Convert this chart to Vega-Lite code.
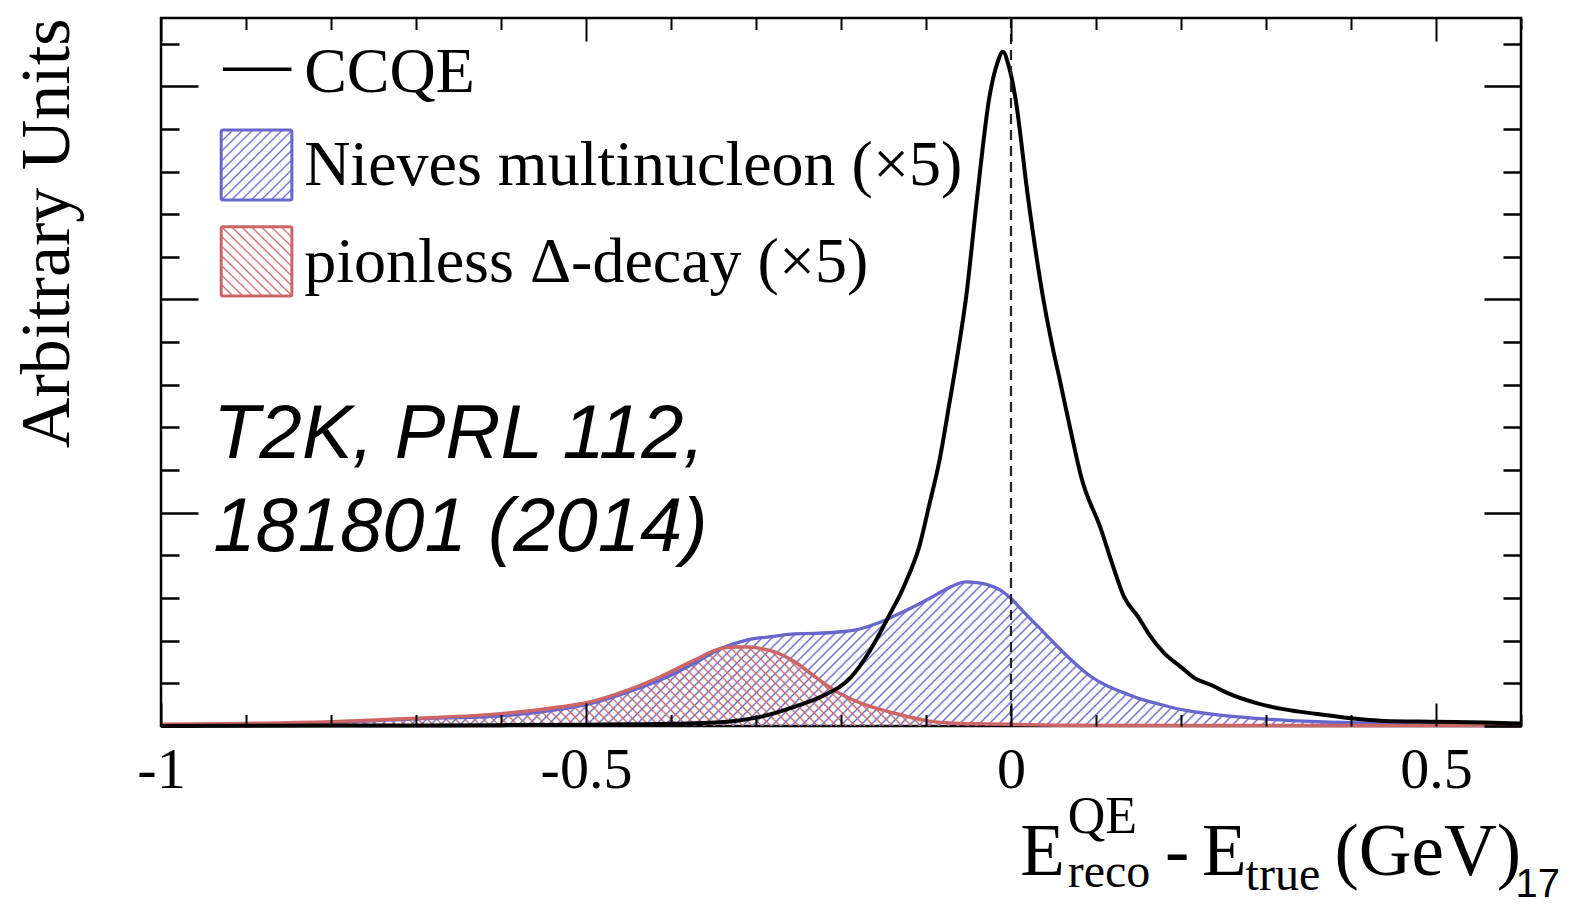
{
"$schema":"https://vega.github.io/schema/vega-lite/v6.json",
"width":1360,"height":708,
"autosize":{"type":"none"},
"padding":{"left":161,"top":18,"right":56,"bottom":181},
"background":"white",
"config":{"view":{"stroke":"black","strokeWidth":2.5},"axis":{"grid":false,"domain":false,"tickColor":"black","labelColor":"black","titleColor":"black"}},
"datasets":{
"ccqe":[{"x":-1,"y":0},{"x":-0.8,"y":0.01},{"x":-0.6,"y":0.02},{"x":-0.5,"y":0.03},{"x":-0.45,"y":0.04},{"x":-0.4,"y":0.05},{"x":-0.364,"y":0.07},{"x":-0.333,"y":0.1},{"x":-0.294,"y":0.22},{"x":-0.255,"y":0.45},{"x":-0.223,"y":0.69},{"x":-0.188,"y":1.15},{"x":-0.168,"y":1.7},{"x":-0.155,"y":2.15},{"x":-0.141,"y":2.68},{"x":-0.13,"y":3.1},{"x":-0.12,"y":3.55},{"x":-0.108,"y":4.2},{"x":-0.096,"y":5.2},{"x":-0.084,"y":6.24},{"x":-0.073,"y":7.5},{"x":-0.062,"y":8.82},{"x":-0.0527,"y":10.07},{"x":-0.0398,"y":12.41},{"x":-0.0253,"y":14.76},{"x":-0.016,"y":15.55},{"x":-0.0095,"y":15.81},{"x":-0.003,"y":15.5},{"x":0.0049,"y":14.76},{"x":0.0199,"y":12.41},{"x":0.0375,"y":10.07},{"x":0.0496,"y":8.82},{"x":0.0567,"y":8.18},{"x":0.0708,"y":6.87},{"x":0.0826,"y":5.84},{"x":0.1061,"y":4.6},{"x":0.12,"y":3.75},{"x":0.1332,"y":3.02},{"x":0.1496,"y":2.56},{"x":0.1614,"y":2.18},{"x":0.1802,"y":1.71},{"x":0.2002,"y":1.38},{"x":0.2155,"y":1.13},{"x":0.2355,"y":0.96},{"x":0.255,"y":0.77},{"x":0.29,"y":0.53},{"x":0.322,"y":0.39},{"x":0.361,"y":0.28},{"x":0.4,"y":0.18},{"x":0.439,"y":0.12},{"x":0.498,"y":0.1},{"x":0.557,"y":0.08},{"x":0.6,"y":0.06}],
"nieves":[{"x":-1,"y":0.02},{"x":-0.9,"y":0.05},{"x":-0.8,"y":0.08},{"x":-0.7,"y":0.17},{"x":-0.6,"y":0.24},{"x":-0.55,"y":0.34},{"x":-0.5,"y":0.5},{"x":-0.45,"y":0.8},{"x":-0.41,"y":1.1},{"x":-0.37,"y":1.5},{"x":-0.341,"y":1.82},{"x":-0.31,"y":2.02},{"x":-0.28,"y":2.1},{"x":-0.255,"y":2.16},{"x":-0.231,"y":2.17},{"x":-0.2,"y":2.21},{"x":-0.184,"y":2.25},{"x":-0.157,"y":2.41},{"x":-0.135,"y":2.6},{"x":-0.114,"y":2.8},{"x":-0.095,"y":3.0},{"x":-0.078,"y":3.19},{"x":-0.053,"y":3.38},{"x":-0.04,"y":3.36},{"x":-0.027,"y":3.31},{"x":-0.012,"y":3.18},{"x":0,"y":2.99},{"x":0.016,"y":2.65},{"x":0.032,"y":2.33},{"x":0.048,"y":2.0},{"x":0.063,"y":1.7},{"x":0.078,"y":1.42},{"x":0.094,"y":1.16},{"x":0.114,"y":0.93},{"x":0.134,"y":0.77},{"x":0.153,"y":0.63},{"x":0.173,"y":0.52},{"x":0.204,"y":0.37},{"x":0.243,"y":0.26},{"x":0.302,"y":0.16},{"x":0.361,"y":0.1},{"x":0.439,"y":0.06},{"x":0.52,"y":0.04},{"x":0.6,"y":0.03}],
"delta":[{"x":-1,"y":0.04},{"x":-0.9,"y":0.06},{"x":-0.8,"y":0.1},{"x":-0.7,"y":0.18},{"x":-0.6,"y":0.29},{"x":-0.529,"y":0.45},{"x":-0.498,"y":0.55},{"x":-0.451,"y":0.84},{"x":-0.412,"y":1.16},{"x":-0.372,"y":1.55},{"x":-0.341,"y":1.82},{"x":-0.325,"y":1.85},{"x":-0.31,"y":1.85},{"x":-0.295,"y":1.82},{"x":-0.278,"y":1.74},{"x":-0.255,"y":1.51},{"x":-0.231,"y":1.16},{"x":-0.208,"y":0.84},{"x":-0.176,"y":0.53},{"x":-0.137,"y":0.3},{"x":-0.098,"y":0.12},{"x":-0.06,"y":0.06},{"x":-0.039,"y":0.05},{"x":0.059,"y":0.02},{"x":0.2,"y":0.01},{"x":0.6,"y":0.01}]
},
"layer":[
{"layer":[
{"data":{"name":"nieves"},
"mark":{"type":"area","interpolate":"monotone","fill":{"gradient":"linear","x1":0,"y1":0,"x2":1.094,"y2":0.116,"stops":[
{"offset":0.091,"color":"#66c0"},{"offset":0.0923,"color":"#66c"},{"offset":0.0936,"color":"#66c0"},
{"offset":0.0975,"color":"#66c0"},{"offset":0.0988,"color":"#66c"},{"offset":0.1001,"color":"#66c0"},
{"offset":0.104,"color":"#66c0"},{"offset":0.1053,"color":"#66c"},{"offset":0.1066,"color":"#66c0"},
{"offset":0.1105,"color":"#66c0"},{"offset":0.1118,"color":"#66c"},{"offset":0.1131,"color":"#66c0"},
{"offset":0.117,"color":"#66c0"},{"offset":0.1183,"color":"#66c"},{"offset":0.1196,"color":"#66c0"},
{"offset":0.1235,"color":"#66c0"},{"offset":0.1248,"color":"#66c"},{"offset":0.1261,"color":"#66c0"},
{"offset":0.13,"color":"#66c0"},{"offset":0.1313,"color":"#66c"},{"offset":0.1326,"color":"#66c0"},
{"offset":0.1365,"color":"#66c0"},{"offset":0.1378,"color":"#66c"},{"offset":0.1391,"color":"#66c0"},
{"offset":0.143,"color":"#66c0"},{"offset":0.1443,"color":"#66c"},{"offset":0.1456,"color":"#66c0"},
{"offset":0.1495,"color":"#66c0"},{"offset":0.1508,"color":"#66c"},{"offset":0.1521,"color":"#66c0"},
{"offset":0.156,"color":"#66c0"},{"offset":0.1573,"color":"#66c"},{"offset":0.1586,"color":"#66c0"},
{"offset":0.1625,"color":"#66c0"},{"offset":0.1638,"color":"#66c"},{"offset":0.1651,"color":"#66c0"},
{"offset":0.169,"color":"#66c0"},{"offset":0.1703,"color":"#66c"},{"offset":0.1716,"color":"#66c0"},
{"offset":0.1755,"color":"#66c0"},{"offset":0.1768,"color":"#66c"},{"offset":0.1781,"color":"#66c0"},
{"offset":0.182,"color":"#66c0"},{"offset":0.1833,"color":"#66c"},{"offset":0.1846,"color":"#66c0"},
{"offset":0.1885,"color":"#66c0"},{"offset":0.1898,"color":"#66c"},{"offset":0.1911,"color":"#66c0"},
{"offset":0.195,"color":"#66c0"},{"offset":0.1963,"color":"#66c"},{"offset":0.1976,"color":"#66c0"},
{"offset":0.2015,"color":"#66c0"},{"offset":0.2028,"color":"#66c"},{"offset":0.2041,"color":"#66c0"},
{"offset":0.208,"color":"#66c0"},{"offset":0.2093,"color":"#66c"},{"offset":0.2106,"color":"#66c0"},
{"offset":0.2145,"color":"#66c0"},{"offset":0.2158,"color":"#66c"},{"offset":0.2171,"color":"#66c0"},
{"offset":0.221,"color":"#66c0"},{"offset":0.2223,"color":"#66c"},{"offset":0.2236,"color":"#66c0"},
{"offset":0.2275,"color":"#66c0"},{"offset":0.2288,"color":"#66c"},{"offset":0.2301,"color":"#66c0"},
{"offset":0.234,"color":"#66c0"},{"offset":0.2353,"color":"#66c"},{"offset":0.2366,"color":"#66c0"},
{"offset":0.2405,"color":"#66c0"},{"offset":0.2418,"color":"#66c"},{"offset":0.2431,"color":"#66c0"},
{"offset":0.247,"color":"#66c0"},{"offset":0.2483,"color":"#66c"},{"offset":0.2496,"color":"#66c0"},
{"offset":0.2535,"color":"#66c0"},{"offset":0.2548,"color":"#66c"},{"offset":0.2561,"color":"#66c0"},
{"offset":0.26,"color":"#66c0"},{"offset":0.2613,"color":"#66c"},{"offset":0.2626,"color":"#66c0"},
{"offset":0.2665,"color":"#66c0"},{"offset":0.2678,"color":"#66c"},{"offset":0.2691,"color":"#66c0"},
{"offset":0.273,"color":"#66c0"},{"offset":0.2743,"color":"#66c"},{"offset":0.2756,"color":"#66c0"},
{"offset":0.2795,"color":"#66c0"},{"offset":0.2808,"color":"#66c"},{"offset":0.2821,"color":"#66c0"},
{"offset":0.286,"color":"#66c0"},{"offset":0.2873,"color":"#66c"},{"offset":0.2886,"color":"#66c0"},
{"offset":0.2925,"color":"#66c0"},{"offset":0.2938,"color":"#66c"},{"offset":0.2951,"color":"#66c0"},
{"offset":0.299,"color":"#66c0"},{"offset":0.3003,"color":"#66c"},{"offset":0.3016,"color":"#66c0"},
{"offset":0.3055,"color":"#66c0"},{"offset":0.3068,"color":"#66c"},{"offset":0.3081,"color":"#66c0"},
{"offset":0.312,"color":"#66c0"},{"offset":0.3133,"color":"#66c"},{"offset":0.3146,"color":"#66c0"},
{"offset":0.3185,"color":"#66c0"},{"offset":0.3198,"color":"#66c"},{"offset":0.3211,"color":"#66c0"},
{"offset":0.325,"color":"#66c0"},{"offset":0.3263,"color":"#66c"},{"offset":0.3276,"color":"#66c0"},
{"offset":0.3315,"color":"#66c0"},{"offset":0.3328,"color":"#66c"},{"offset":0.3341,"color":"#66c0"},
{"offset":0.338,"color":"#66c0"},{"offset":0.3393,"color":"#66c"},{"offset":0.3406,"color":"#66c0"},
{"offset":0.3445,"color":"#66c0"},{"offset":0.3458,"color":"#66c"},{"offset":0.3471,"color":"#66c0"},
{"offset":0.351,"color":"#66c0"},{"offset":0.3523,"color":"#66c"},{"offset":0.3536,"color":"#66c0"},
{"offset":0.3575,"color":"#66c0"},{"offset":0.3588,"color":"#66c"},{"offset":0.3601,"color":"#66c0"},
{"offset":0.364,"color":"#66c0"},{"offset":0.3653,"color":"#66c"},{"offset":0.3666,"color":"#66c0"},
{"offset":0.3705,"color":"#66c0"},{"offset":0.3718,"color":"#66c"},{"offset":0.3731,"color":"#66c0"},
{"offset":0.377,"color":"#66c0"},{"offset":0.3783,"color":"#66c"},{"offset":0.3796,"color":"#66c0"},
{"offset":0.3835,"color":"#66c0"},{"offset":0.3848,"color":"#66c"},{"offset":0.3861,"color":"#66c0"},
{"offset":0.39,"color":"#66c0"},{"offset":0.3913,"color":"#66c"},{"offset":0.3926,"color":"#66c0"},
{"offset":0.3965,"color":"#66c0"},{"offset":0.3978,"color":"#66c"},{"offset":0.3991,"color":"#66c0"},
{"offset":0.403,"color":"#66c0"},{"offset":0.4043,"color":"#66c"},{"offset":0.4056,"color":"#66c0"},
{"offset":0.4095,"color":"#66c0"},{"offset":0.4108,"color":"#66c"},{"offset":0.4121,"color":"#66c0"},
{"offset":0.416,"color":"#66c0"},{"offset":0.4173,"color":"#66c"},{"offset":0.4186,"color":"#66c0"},
{"offset":0.4225,"color":"#66c0"},{"offset":0.4238,"color":"#66c"},{"offset":0.4251,"color":"#66c0"},
{"offset":0.429,"color":"#66c0"},{"offset":0.4303,"color":"#66c"},{"offset":0.4316,"color":"#66c0"},
{"offset":0.4355,"color":"#66c0"},{"offset":0.4368,"color":"#66c"},{"offset":0.4381,"color":"#66c0"},
{"offset":0.442,"color":"#66c0"},{"offset":0.4433,"color":"#66c"},{"offset":0.4446,"color":"#66c0"},
{"offset":0.4485,"color":"#66c0"},{"offset":0.4498,"color":"#66c"},{"offset":0.4511,"color":"#66c0"},
{"offset":0.455,"color":"#66c0"},{"offset":0.4563,"color":"#66c"},{"offset":0.4576,"color":"#66c0"},
{"offset":0.4615,"color":"#66c0"},{"offset":0.4628,"color":"#66c"},{"offset":0.4641,"color":"#66c0"},
{"offset":0.468,"color":"#66c0"},{"offset":0.4693,"color":"#66c"},{"offset":0.4706,"color":"#66c0"},
{"offset":0.4745,"color":"#66c0"},{"offset":0.4758,"color":"#66c"},{"offset":0.4771,"color":"#66c0"},
{"offset":0.481,"color":"#66c0"},{"offset":0.4823,"color":"#66c"},{"offset":0.4836,"color":"#66c0"},
{"offset":0.4875,"color":"#66c0"},{"offset":0.4888,"color":"#66c"},{"offset":0.4901,"color":"#66c0"},
{"offset":0.494,"color":"#66c0"},{"offset":0.4953,"color":"#66c"},{"offset":0.4966,"color":"#66c0"},
{"offset":0.5005,"color":"#66c0"},{"offset":0.5018,"color":"#66c"},{"offset":0.5031,"color":"#66c0"},
{"offset":0.507,"color":"#66c0"},{"offset":0.5083,"color":"#66c"},{"offset":0.5096,"color":"#66c0"},
{"offset":0.5135,"color":"#66c0"},{"offset":0.5148,"color":"#66c"},{"offset":0.5161,"color":"#66c0"},
{"offset":0.52,"color":"#66c0"},{"offset":0.5213,"color":"#66c"},{"offset":0.5226,"color":"#66c0"},
{"offset":0.5265,"color":"#66c0"},{"offset":0.5278,"color":"#66c"},{"offset":0.5291,"color":"#66c0"},
{"offset":0.533,"color":"#66c0"},{"offset":0.5343,"color":"#66c"},{"offset":0.5356,"color":"#66c0"},
{"offset":0.5395,"color":"#66c0"},{"offset":0.5408,"color":"#66c"},{"offset":0.5421,"color":"#66c0"},
{"offset":0.546,"color":"#66c0"},{"offset":0.5473,"color":"#66c"},{"offset":0.5486,"color":"#66c0"},
{"offset":0.5525,"color":"#66c0"},{"offset":0.5538,"color":"#66c"},{"offset":0.5551,"color":"#66c0"},
{"offset":0.559,"color":"#66c0"},{"offset":0.5603,"color":"#66c"},{"offset":0.5616,"color":"#66c0"},
{"offset":0.5655,"color":"#66c0"},{"offset":0.5668,"color":"#66c"},{"offset":0.5681,"color":"#66c0"},
{"offset":0.572,"color":"#66c0"},{"offset":0.5733,"color":"#66c"},{"offset":0.5746,"color":"#66c0"},
{"offset":0.5785,"color":"#66c0"},{"offset":0.5798,"color":"#66c"},{"offset":0.5811,"color":"#66c0"},
{"offset":0.585,"color":"#66c0"},{"offset":0.5863,"color":"#66c"},{"offset":0.5876,"color":"#66c0"},
{"offset":0.5915,"color":"#66c0"},{"offset":0.5928,"color":"#66c"},{"offset":0.5941,"color":"#66c0"},
{"offset":0.598,"color":"#66c0"},{"offset":0.5993,"color":"#66c"},{"offset":0.6006,"color":"#66c0"},
{"offset":0.6045,"color":"#66c0"},{"offset":0.6058,"color":"#66c"},{"offset":0.6071,"color":"#66c0"},
{"offset":0.611,"color":"#66c0"},{"offset":0.6123,"color":"#66c"},{"offset":0.6136,"color":"#66c0"},
{"offset":0.6175,"color":"#66c0"},{"offset":0.6188,"color":"#66c"},{"offset":0.6201,"color":"#66c0"},
{"offset":0.624,"color":"#66c0"},{"offset":0.6253,"color":"#66c"},{"offset":0.6266,"color":"#66c0"},
{"offset":0.6305,"color":"#66c0"},{"offset":0.6318,"color":"#66c"},{"offset":0.6331,"color":"#66c0"},
{"offset":0.637,"color":"#66c0"},{"offset":0.6383,"color":"#66c"},{"offset":0.6396,"color":"#66c0"},
{"offset":0.6435,"color":"#66c0"},{"offset":0.6448,"color":"#66c"},{"offset":0.6461,"color":"#66c0"},
{"offset":0.65,"color":"#66c0"},{"offset":0.6513,"color":"#66c"},{"offset":0.6526,"color":"#66c0"},
{"offset":0.6565,"color":"#66c0"},{"offset":0.6578,"color":"#66c"},{"offset":0.6591,"color":"#66c0"},
{"offset":0.663,"color":"#66c0"},{"offset":0.6643,"color":"#66c"},{"offset":0.6656,"color":"#66c0"},
{"offset":0.6695,"color":"#66c0"},{"offset":0.6708,"color":"#66c"},{"offset":0.6721,"color":"#66c0"},
{"offset":0.676,"color":"#66c0"},{"offset":0.6773,"color":"#66c"},{"offset":0.6786,"color":"#66c0"},
{"offset":0.6825,"color":"#66c0"},{"offset":0.6838,"color":"#66c"},{"offset":0.6851,"color":"#66c0"},
{"offset":0.689,"color":"#66c0"},{"offset":0.6903,"color":"#66c"},{"offset":0.6916,"color":"#66c0"},
{"offset":0.6955,"color":"#66c0"},{"offset":0.6968,"color":"#66c"},{"offset":0.6981,"color":"#66c0"},
{"offset":0.702,"color":"#66c0"},{"offset":0.7033,"color":"#66c"},{"offset":0.7046,"color":"#66c0"},
{"offset":0.7085,"color":"#66c0"},{"offset":0.7098,"color":"#66c"},{"offset":0.7111,"color":"#66c0"},
{"offset":0.715,"color":"#66c0"},{"offset":0.7163,"color":"#66c"},{"offset":0.7176,"color":"#66c0"},
{"offset":0.7215,"color":"#66c0"},{"offset":0.7228,"color":"#66c"},{"offset":0.7241,"color":"#66c0"},
{"offset":0.728,"color":"#66c0"},{"offset":0.7293,"color":"#66c"},{"offset":0.7306,"color":"#66c0"},
{"offset":0.7345,"color":"#66c0"},{"offset":0.7358,"color":"#66c"},{"offset":0.7371,"color":"#66c0"},
{"offset":0.741,"color":"#66c0"},{"offset":0.7423,"color":"#66c"},{"offset":0.7436,"color":"#66c0"},
{"offset":0.7475,"color":"#66c0"},{"offset":0.7488,"color":"#66c"},{"offset":0.7501,"color":"#66c0"},
{"offset":0.754,"color":"#66c0"},{"offset":0.7553,"color":"#66c"},{"offset":0.7566,"color":"#66c0"},
{"offset":0.7605,"color":"#66c0"},{"offset":0.7618,"color":"#66c"},{"offset":0.7631,"color":"#66c0"},
{"offset":0.767,"color":"#66c0"},{"offset":0.7683,"color":"#66c"},{"offset":0.7696,"color":"#66c0"},
{"offset":0.7735,"color":"#66c0"},{"offset":0.7748,"color":"#66c"},{"offset":0.7761,"color":"#66c0"},
{"offset":0.78,"color":"#66c0"},{"offset":0.7813,"color":"#66c"},{"offset":0.7826,"color":"#66c0"},
{"offset":0.7865,"color":"#66c0"},{"offset":0.7878,"color":"#66c"},{"offset":0.7891,"color":"#66c0"},
{"offset":0.793,"color":"#66c0"},{"offset":0.7943,"color":"#66c"},{"offset":0.7956,"color":"#66c0"},
{"offset":0.7995,"color":"#66c0"},{"offset":0.8008,"color":"#66c"},{"offset":0.8021,"color":"#66c0"},
{"offset":0.806,"color":"#66c0"},{"offset":0.8073,"color":"#66c"},{"offset":0.8086,"color":"#66c0"},
{"offset":0.8125,"color":"#66c0"},{"offset":0.8138,"color":"#66c"},{"offset":0.8151,"color":"#66c0"},
{"offset":0.819,"color":"#66c0"},{"offset":0.8203,"color":"#66c"},{"offset":0.8216,"color":"#66c0"},
{"offset":0.8255,"color":"#66c0"},{"offset":0.8268,"color":"#66c"},{"offset":0.8281,"color":"#66c0"},
{"offset":0.832,"color":"#66c0"},{"offset":0.8333,"color":"#66c"},{"offset":0.8346,"color":"#66c0"},
{"offset":0.8385,"color":"#66c0"},{"offset":0.8398,"color":"#66c"},{"offset":0.8411,"color":"#66c0"},
{"offset":0.845,"color":"#66c0"},{"offset":0.8463,"color":"#66c"},{"offset":0.8476,"color":"#66c0"},
{"offset":0.8515,"color":"#66c0"},{"offset":0.8528,"color":"#66c"},{"offset":0.8541,"color":"#66c0"},
{"offset":0.858,"color":"#66c0"},{"offset":0.8593,"color":"#66c"},{"offset":0.8606,"color":"#66c0"},
{"offset":0.8645,"color":"#66c0"},{"offset":0.8658,"color":"#66c"},{"offset":0.8671,"color":"#66c0"},
{"offset":0.871,"color":"#66c0"},{"offset":0.8723,"color":"#66c"},{"offset":0.8736,"color":"#66c0"},
{"offset":0.8775,"color":"#66c0"},{"offset":0.8788,"color":"#66c"},{"offset":0.8801,"color":"#66c0"},
{"offset":0.884,"color":"#66c0"},{"offset":0.8853,"color":"#66c"},{"offset":0.8866,"color":"#66c0"},
{"offset":0.8905,"color":"#66c0"},{"offset":0.8918,"color":"#66c"},{"offset":0.8931,"color":"#66c0"},
{"offset":0.897,"color":"#66c0"},{"offset":0.8983,"color":"#66c"},{"offset":0.8996,"color":"#66c0"},
{"offset":0.9035,"color":"#66c0"},{"offset":0.9048,"color":"#66c"},{"offset":0.9061,"color":"#66c0"},
{"offset":0.91,"color":"#66c0"},{"offset":0.9113,"color":"#66c"},{"offset":0.9126,"color":"#66c0"},
{"offset":0.9165,"color":"#66c0"},{"offset":0.9178,"color":"#66c"},{"offset":0.9191,"color":"#66c0"},
{"offset":0.923,"color":"#66c0"},{"offset":0.9243,"color":"#66c"},{"offset":0.9256,"color":"#66c0"},
{"offset":0.9295,"color":"#66c0"},{"offset":0.9308,"color":"#66c"},{"offset":0.9321,"color":"#66c0"},
{"offset":0.936,"color":"#66c0"},{"offset":0.9373,"color":"#66c"},{"offset":0.9386,"color":"#66c0"},
{"offset":0.9425,"color":"#66c0"},{"offset":0.9438,"color":"#66c"},{"offset":0.9451,"color":"#66c0"},
{"offset":0.949,"color":"#66c0"},{"offset":0.9503,"color":"#66c"},{"offset":0.9516,"color":"#66c0"},
{"offset":0.9555,"color":"#66c0"},{"offset":0.9568,"color":"#66c"},{"offset":0.9581,"color":"#66c0"},
{"offset":0.962,"color":"#66c0"},{"offset":0.9633,"color":"#66c"},{"offset":0.9646,"color":"#66c0"},
{"offset":0.9685,"color":"#66c0"},{"offset":0.9698,"color":"#66c"},{"offset":0.9711,"color":"#66c0"},
{"offset":0.975,"color":"#66c0"},{"offset":0.9763,"color":"#66c"},{"offset":0.9776,"color":"#66c0"},
{"offset":0.9815,"color":"#66c0"},{"offset":0.9828,"color":"#66c"},{"offset":0.9841,"color":"#66c0"},
{"offset":0.988,"color":"#66c0"},{"offset":0.9893,"color":"#66c"},{"offset":0.9906,"color":"#66c0"},
{"offset":0.9945,"color":"#66c0"},{"offset":0.9958,"color":"#66c"},{"offset":0.9971,"color":"#66c0"}
]}},
"encoding":{"x":{"field":"x","type":"quantitative","title":null,"scale":{"domain":[-1,0.6],"nice":false,"zero":false},
"axis":{"orient":"bottom","values":[-1,-0.9,-0.8,-0.7,-0.6,-0.5,-0.4,-0.3,-0.2,-0.1,0,0.1,0.2,0.3,0.4,0.5,0.6],"labelExpr":"datum.value == -1 ? '-1' : datum.value == -0.5 ? '-0.5' : datum.value == 0 ? '0' : datum.value == 0.5 ? '0.5' : ''","labelFlush":false,"labelOverlap":false,"labelFont":"Liberation Serif","labelFontSize":58,"labelPadding":38,"tickSize":{"condition":{"test":"indexof([-1,-0.5,0,0.5], datum.value) >= 0","value":-23},"value":-11.5},"tickWidth":2,"zindex":1}},
"y":{"field":"y","type":"quantitative","title":"Arbitrary Units","scale":{"domain":[0,16.6],"nice":false,"zero":false},
"axis":{"orient":"left","values":[0,1,2,3,4,5,6,7,8,9,10,11,12,13,14,15,16],"labels":false,"tickSize":{"condition":{"test":"indexof([0,5,10,15], datum.value) >= 0","value":-37},"value":-18},"tickWidth":2.5,"titleFont":"Liberation Serif","titleFontSize":70,"titleFontWeight":"normal","titleAnchor":"end","titlePadding":76,"zindex":1}}}},
{"data":{"name":"delta"},
"mark":{"type":"area","interpolate":"monotone","fill":{"gradient":"linear","x1":0,"y1":1,"x2":1.055,"y2":0.939,"stops":[
{"offset":0,"color":"#c660"},{"offset":0.0013,"color":"#c66"},{"offset":0.0026,"color":"#c660"},
{"offset":0.0065,"color":"#c660"},{"offset":0.0078,"color":"#c66"},{"offset":0.0091,"color":"#c660"},
{"offset":0.013,"color":"#c660"},{"offset":0.0143,"color":"#c66"},{"offset":0.0156,"color":"#c660"},
{"offset":0.0195,"color":"#c660"},{"offset":0.0208,"color":"#c66"},{"offset":0.0221,"color":"#c660"},
{"offset":0.026,"color":"#c660"},{"offset":0.0273,"color":"#c66"},{"offset":0.0286,"color":"#c660"},
{"offset":0.0325,"color":"#c660"},{"offset":0.0338,"color":"#c66"},{"offset":0.0351,"color":"#c660"},
{"offset":0.039,"color":"#c660"},{"offset":0.0403,"color":"#c66"},{"offset":0.0416,"color":"#c660"},
{"offset":0.0455,"color":"#c660"},{"offset":0.0468,"color":"#c66"},{"offset":0.0481,"color":"#c660"},
{"offset":0.052,"color":"#c660"},{"offset":0.0533,"color":"#c66"},{"offset":0.0546,"color":"#c660"},
{"offset":0.0585,"color":"#c660"},{"offset":0.0598,"color":"#c66"},{"offset":0.0611,"color":"#c660"},
{"offset":0.065,"color":"#c660"},{"offset":0.0663,"color":"#c66"},{"offset":0.0676,"color":"#c660"},
{"offset":0.0715,"color":"#c660"},{"offset":0.0728,"color":"#c66"},{"offset":0.0741,"color":"#c660"},
{"offset":0.078,"color":"#c660"},{"offset":0.0793,"color":"#c66"},{"offset":0.0806,"color":"#c660"},
{"offset":0.0845,"color":"#c660"},{"offset":0.0858,"color":"#c66"},{"offset":0.0871,"color":"#c660"},
{"offset":0.091,"color":"#c660"},{"offset":0.0923,"color":"#c66"},{"offset":0.0936,"color":"#c660"},
{"offset":0.0975,"color":"#c660"},{"offset":0.0988,"color":"#c66"},{"offset":0.1001,"color":"#c660"},
{"offset":0.104,"color":"#c660"},{"offset":0.1053,"color":"#c66"},{"offset":0.1066,"color":"#c660"},
{"offset":0.1105,"color":"#c660"},{"offset":0.1118,"color":"#c66"},{"offset":0.1131,"color":"#c660"},
{"offset":0.117,"color":"#c660"},{"offset":0.1183,"color":"#c66"},{"offset":0.1196,"color":"#c660"},
{"offset":0.1235,"color":"#c660"},{"offset":0.1248,"color":"#c66"},{"offset":0.1261,"color":"#c660"},
{"offset":0.13,"color":"#c660"},{"offset":0.1313,"color":"#c66"},{"offset":0.1326,"color":"#c660"},
{"offset":0.1365,"color":"#c660"},{"offset":0.1378,"color":"#c66"},{"offset":0.1391,"color":"#c660"},
{"offset":0.143,"color":"#c660"},{"offset":0.1443,"color":"#c66"},{"offset":0.1456,"color":"#c660"},
{"offset":0.1495,"color":"#c660"},{"offset":0.1508,"color":"#c66"},{"offset":0.1521,"color":"#c660"},
{"offset":0.156,"color":"#c660"},{"offset":0.1573,"color":"#c66"},{"offset":0.1586,"color":"#c660"},
{"offset":0.1625,"color":"#c660"},{"offset":0.1638,"color":"#c66"},{"offset":0.1651,"color":"#c660"},
{"offset":0.169,"color":"#c660"},{"offset":0.1703,"color":"#c66"},{"offset":0.1716,"color":"#c660"},
{"offset":0.1755,"color":"#c660"},{"offset":0.1768,"color":"#c66"},{"offset":0.1781,"color":"#c660"},
{"offset":0.182,"color":"#c660"},{"offset":0.1833,"color":"#c66"},{"offset":0.1846,"color":"#c660"},
{"offset":0.1885,"color":"#c660"},{"offset":0.1898,"color":"#c66"},{"offset":0.1911,"color":"#c660"},
{"offset":0.195,"color":"#c660"},{"offset":0.1963,"color":"#c66"},{"offset":0.1976,"color":"#c660"},
{"offset":0.2015,"color":"#c660"},{"offset":0.2028,"color":"#c66"},{"offset":0.2041,"color":"#c660"},
{"offset":0.208,"color":"#c660"},{"offset":0.2093,"color":"#c66"},{"offset":0.2106,"color":"#c660"},
{"offset":0.2145,"color":"#c660"},{"offset":0.2158,"color":"#c66"},{"offset":0.2171,"color":"#c660"},
{"offset":0.221,"color":"#c660"},{"offset":0.2223,"color":"#c66"},{"offset":0.2236,"color":"#c660"},
{"offset":0.2275,"color":"#c660"},{"offset":0.2288,"color":"#c66"},{"offset":0.2301,"color":"#c660"},
{"offset":0.234,"color":"#c660"},{"offset":0.2353,"color":"#c66"},{"offset":0.2366,"color":"#c660"},
{"offset":0.2405,"color":"#c660"},{"offset":0.2418,"color":"#c66"},{"offset":0.2431,"color":"#c660"},
{"offset":0.247,"color":"#c660"},{"offset":0.2483,"color":"#c66"},{"offset":0.2496,"color":"#c660"},
{"offset":0.2535,"color":"#c660"},{"offset":0.2548,"color":"#c66"},{"offset":0.2561,"color":"#c660"},
{"offset":0.26,"color":"#c660"},{"offset":0.2613,"color":"#c66"},{"offset":0.2626,"color":"#c660"},
{"offset":0.2665,"color":"#c660"},{"offset":0.2678,"color":"#c66"},{"offset":0.2691,"color":"#c660"},
{"offset":0.273,"color":"#c660"},{"offset":0.2743,"color":"#c66"},{"offset":0.2756,"color":"#c660"},
{"offset":0.2795,"color":"#c660"},{"offset":0.2808,"color":"#c66"},{"offset":0.2821,"color":"#c660"},
{"offset":0.286,"color":"#c660"},{"offset":0.2873,"color":"#c66"},{"offset":0.2886,"color":"#c660"},
{"offset":0.2925,"color":"#c660"},{"offset":0.2938,"color":"#c66"},{"offset":0.2951,"color":"#c660"},
{"offset":0.299,"color":"#c660"},{"offset":0.3003,"color":"#c66"},{"offset":0.3016,"color":"#c660"},
{"offset":0.3055,"color":"#c660"},{"offset":0.3068,"color":"#c66"},{"offset":0.3081,"color":"#c660"},
{"offset":0.312,"color":"#c660"},{"offset":0.3133,"color":"#c66"},{"offset":0.3146,"color":"#c660"},
{"offset":0.3185,"color":"#c660"},{"offset":0.3198,"color":"#c66"},{"offset":0.3211,"color":"#c660"},
{"offset":0.325,"color":"#c660"},{"offset":0.3263,"color":"#c66"},{"offset":0.3276,"color":"#c660"},
{"offset":0.3315,"color":"#c660"},{"offset":0.3328,"color":"#c66"},{"offset":0.3341,"color":"#c660"},
{"offset":0.338,"color":"#c660"},{"offset":0.3393,"color":"#c66"},{"offset":0.3406,"color":"#c660"},
{"offset":0.3445,"color":"#c660"},{"offset":0.3458,"color":"#c66"},{"offset":0.3471,"color":"#c660"},
{"offset":0.351,"color":"#c660"},{"offset":0.3523,"color":"#c66"},{"offset":0.3536,"color":"#c660"},
{"offset":0.3575,"color":"#c660"},{"offset":0.3588,"color":"#c66"},{"offset":0.3601,"color":"#c660"},
{"offset":0.364,"color":"#c660"},{"offset":0.3653,"color":"#c66"},{"offset":0.3666,"color":"#c660"},
{"offset":0.3705,"color":"#c660"},{"offset":0.3718,"color":"#c66"},{"offset":0.3731,"color":"#c660"},
{"offset":0.377,"color":"#c660"},{"offset":0.3783,"color":"#c66"},{"offset":0.3796,"color":"#c660"},
{"offset":0.3835,"color":"#c660"},{"offset":0.3848,"color":"#c66"},{"offset":0.3861,"color":"#c660"},
{"offset":0.39,"color":"#c660"},{"offset":0.3913,"color":"#c66"},{"offset":0.3926,"color":"#c660"},
{"offset":0.3965,"color":"#c660"},{"offset":0.3978,"color":"#c66"},{"offset":0.3991,"color":"#c660"},
{"offset":0.403,"color":"#c660"},{"offset":0.4043,"color":"#c66"},{"offset":0.4056,"color":"#c660"},
{"offset":0.4095,"color":"#c660"},{"offset":0.4108,"color":"#c66"},{"offset":0.4121,"color":"#c660"},
{"offset":0.416,"color":"#c660"},{"offset":0.4173,"color":"#c66"},{"offset":0.4186,"color":"#c660"},
{"offset":0.4225,"color":"#c660"},{"offset":0.4238,"color":"#c66"},{"offset":0.4251,"color":"#c660"},
{"offset":0.429,"color":"#c660"},{"offset":0.4303,"color":"#c66"},{"offset":0.4316,"color":"#c660"},
{"offset":0.4355,"color":"#c660"},{"offset":0.4368,"color":"#c66"},{"offset":0.4381,"color":"#c660"},
{"offset":0.442,"color":"#c660"},{"offset":0.4433,"color":"#c66"},{"offset":0.4446,"color":"#c660"},
{"offset":0.4485,"color":"#c660"},{"offset":0.4498,"color":"#c66"},{"offset":0.4511,"color":"#c660"},
{"offset":0.455,"color":"#c660"},{"offset":0.4563,"color":"#c66"},{"offset":0.4576,"color":"#c660"},
{"offset":0.4615,"color":"#c660"},{"offset":0.4628,"color":"#c66"},{"offset":0.4641,"color":"#c660"},
{"offset":0.468,"color":"#c660"},{"offset":0.4693,"color":"#c66"},{"offset":0.4706,"color":"#c660"},
{"offset":0.4745,"color":"#c660"},{"offset":0.4758,"color":"#c66"},{"offset":0.4771,"color":"#c660"},
{"offset":0.481,"color":"#c660"},{"offset":0.4823,"color":"#c66"},{"offset":0.4836,"color":"#c660"},
{"offset":0.4875,"color":"#c660"},{"offset":0.4888,"color":"#c66"},{"offset":0.4901,"color":"#c660"},
{"offset":0.494,"color":"#c660"},{"offset":0.4953,"color":"#c66"},{"offset":0.4966,"color":"#c660"},
{"offset":0.5005,"color":"#c660"},{"offset":0.5018,"color":"#c66"},{"offset":0.5031,"color":"#c660"},
{"offset":0.507,"color":"#c660"},{"offset":0.5083,"color":"#c66"},{"offset":0.5096,"color":"#c660"},
{"offset":0.5135,"color":"#c660"},{"offset":0.5148,"color":"#c66"},{"offset":0.5161,"color":"#c660"},
{"offset":0.52,"color":"#c660"},{"offset":0.5213,"color":"#c66"},{"offset":0.5226,"color":"#c660"},
{"offset":0.5265,"color":"#c660"},{"offset":0.5278,"color":"#c66"},{"offset":0.5291,"color":"#c660"},
{"offset":0.533,"color":"#c660"},{"offset":0.5343,"color":"#c66"},{"offset":0.5356,"color":"#c660"},
{"offset":0.5395,"color":"#c660"},{"offset":0.5408,"color":"#c66"},{"offset":0.5421,"color":"#c660"},
{"offset":0.546,"color":"#c660"},{"offset":0.5473,"color":"#c66"},{"offset":0.5486,"color":"#c660"},
{"offset":0.5525,"color":"#c660"},{"offset":0.5538,"color":"#c66"},{"offset":0.5551,"color":"#c660"},
{"offset":0.559,"color":"#c660"},{"offset":0.5603,"color":"#c66"},{"offset":0.5616,"color":"#c660"},
{"offset":0.5655,"color":"#c660"},{"offset":0.5668,"color":"#c66"},{"offset":0.5681,"color":"#c660"},
{"offset":0.572,"color":"#c660"},{"offset":0.5733,"color":"#c66"},{"offset":0.5746,"color":"#c660"},
{"offset":0.5785,"color":"#c660"},{"offset":0.5798,"color":"#c66"},{"offset":0.5811,"color":"#c660"},
{"offset":0.585,"color":"#c660"},{"offset":0.5863,"color":"#c66"},{"offset":0.5876,"color":"#c660"},
{"offset":0.5915,"color":"#c660"},{"offset":0.5928,"color":"#c66"},{"offset":0.5941,"color":"#c660"},
{"offset":0.598,"color":"#c660"},{"offset":0.5993,"color":"#c66"},{"offset":0.6006,"color":"#c660"},
{"offset":0.6045,"color":"#c660"},{"offset":0.6058,"color":"#c66"},{"offset":0.6071,"color":"#c660"},
{"offset":0.611,"color":"#c660"},{"offset":0.6123,"color":"#c66"},{"offset":0.6136,"color":"#c660"},
{"offset":0.6175,"color":"#c660"},{"offset":0.6188,"color":"#c66"},{"offset":0.6201,"color":"#c660"},
{"offset":0.624,"color":"#c660"},{"offset":0.6253,"color":"#c66"},{"offset":0.6266,"color":"#c660"},
{"offset":0.6305,"color":"#c660"},{"offset":0.6318,"color":"#c66"},{"offset":0.6331,"color":"#c660"},
{"offset":0.637,"color":"#c660"},{"offset":0.6383,"color":"#c66"},{"offset":0.6396,"color":"#c660"},
{"offset":0.6435,"color":"#c660"},{"offset":0.6448,"color":"#c66"},{"offset":0.6461,"color":"#c660"},
{"offset":0.65,"color":"#c660"},{"offset":0.6513,"color":"#c66"},{"offset":0.6526,"color":"#c660"},
{"offset":0.6565,"color":"#c660"},{"offset":0.6578,"color":"#c66"},{"offset":0.6591,"color":"#c660"},
{"offset":0.663,"color":"#c660"},{"offset":0.6643,"color":"#c66"},{"offset":0.6656,"color":"#c660"},
{"offset":0.6695,"color":"#c660"},{"offset":0.6708,"color":"#c66"},{"offset":0.6721,"color":"#c660"},
{"offset":0.676,"color":"#c660"},{"offset":0.6773,"color":"#c66"},{"offset":0.6786,"color":"#c660"},
{"offset":0.6825,"color":"#c660"},{"offset":0.6838,"color":"#c66"},{"offset":0.6851,"color":"#c660"},
{"offset":0.689,"color":"#c660"},{"offset":0.6903,"color":"#c66"},{"offset":0.6916,"color":"#c660"},
{"offset":0.6955,"color":"#c660"},{"offset":0.6968,"color":"#c66"},{"offset":0.6981,"color":"#c660"},
{"offset":0.702,"color":"#c660"},{"offset":0.7033,"color":"#c66"},{"offset":0.7046,"color":"#c660"},
{"offset":0.7085,"color":"#c660"},{"offset":0.7098,"color":"#c66"},{"offset":0.7111,"color":"#c660"},
{"offset":0.715,"color":"#c660"},{"offset":0.7163,"color":"#c66"},{"offset":0.7176,"color":"#c660"},
{"offset":0.7215,"color":"#c660"},{"offset":0.7228,"color":"#c66"},{"offset":0.7241,"color":"#c660"},
{"offset":0.728,"color":"#c660"},{"offset":0.7293,"color":"#c66"},{"offset":0.7306,"color":"#c660"},
{"offset":0.7345,"color":"#c660"},{"offset":0.7358,"color":"#c66"},{"offset":0.7371,"color":"#c660"},
{"offset":0.741,"color":"#c660"},{"offset":0.7423,"color":"#c66"},{"offset":0.7436,"color":"#c660"},
{"offset":0.7475,"color":"#c660"},{"offset":0.7488,"color":"#c66"},{"offset":0.7501,"color":"#c660"},
{"offset":0.754,"color":"#c660"},{"offset":0.7553,"color":"#c66"},{"offset":0.7566,"color":"#c660"},
{"offset":0.7605,"color":"#c660"},{"offset":0.7618,"color":"#c66"},{"offset":0.7631,"color":"#c660"},
{"offset":0.767,"color":"#c660"},{"offset":0.7683,"color":"#c66"},{"offset":0.7696,"color":"#c660"},
{"offset":0.7735,"color":"#c660"},{"offset":0.7748,"color":"#c66"},{"offset":0.7761,"color":"#c660"},
{"offset":0.78,"color":"#c660"},{"offset":0.7813,"color":"#c66"},{"offset":0.7826,"color":"#c660"},
{"offset":0.7865,"color":"#c660"},{"offset":0.7878,"color":"#c66"},{"offset":0.7891,"color":"#c660"},
{"offset":0.793,"color":"#c660"},{"offset":0.7943,"color":"#c66"},{"offset":0.7956,"color":"#c660"},
{"offset":0.7995,"color":"#c660"},{"offset":0.8008,"color":"#c66"},{"offset":0.8021,"color":"#c660"},
{"offset":0.806,"color":"#c660"},{"offset":0.8073,"color":"#c66"},{"offset":0.8086,"color":"#c660"},
{"offset":0.8125,"color":"#c660"},{"offset":0.8138,"color":"#c66"},{"offset":0.8151,"color":"#c660"},
{"offset":0.819,"color":"#c660"},{"offset":0.8203,"color":"#c66"},{"offset":0.8216,"color":"#c660"},
{"offset":0.8255,"color":"#c660"},{"offset":0.8268,"color":"#c66"},{"offset":0.8281,"color":"#c660"},
{"offset":0.832,"color":"#c660"},{"offset":0.8333,"color":"#c66"},{"offset":0.8346,"color":"#c660"},
{"offset":0.8385,"color":"#c660"},{"offset":0.8398,"color":"#c66"},{"offset":0.8411,"color":"#c660"},
{"offset":0.845,"color":"#c660"},{"offset":0.8463,"color":"#c66"},{"offset":0.8476,"color":"#c660"},
{"offset":0.8515,"color":"#c660"},{"offset":0.8528,"color":"#c66"},{"offset":0.8541,"color":"#c660"},
{"offset":0.858,"color":"#c660"},{"offset":0.8593,"color":"#c66"},{"offset":0.8606,"color":"#c660"},
{"offset":0.8645,"color":"#c660"},{"offset":0.8658,"color":"#c66"},{"offset":0.8671,"color":"#c660"},
{"offset":0.871,"color":"#c660"},{"offset":0.8723,"color":"#c66"},{"offset":0.8736,"color":"#c660"},
{"offset":0.8775,"color":"#c660"},{"offset":0.8788,"color":"#c66"},{"offset":0.8801,"color":"#c660"},
{"offset":0.884,"color":"#c660"},{"offset":0.8853,"color":"#c66"},{"offset":0.8866,"color":"#c660"},
{"offset":0.8905,"color":"#c660"},{"offset":0.8918,"color":"#c66"},{"offset":0.8931,"color":"#c660"},
{"offset":0.897,"color":"#c660"},{"offset":0.8983,"color":"#c66"},{"offset":0.8996,"color":"#c660"},
{"offset":0.9035,"color":"#c660"},{"offset":0.9048,"color":"#c66"},{"offset":0.9061,"color":"#c660"},
{"offset":0.91,"color":"#c660"},{"offset":0.9113,"color":"#c66"},{"offset":0.9126,"color":"#c660"},
{"offset":0.9165,"color":"#c660"},{"offset":0.9178,"color":"#c66"},{"offset":0.9191,"color":"#c660"},
{"offset":0.923,"color":"#c660"},{"offset":0.9243,"color":"#c66"},{"offset":0.9256,"color":"#c660"},
{"offset":0.9295,"color":"#c660"},{"offset":0.9308,"color":"#c66"},{"offset":0.9321,"color":"#c660"},
{"offset":0.936,"color":"#c660"},{"offset":0.9373,"color":"#c66"},{"offset":0.9386,"color":"#c660"},
{"offset":0.9425,"color":"#c660"},{"offset":0.9438,"color":"#c66"},{"offset":0.9451,"color":"#c660"},
{"offset":0.949,"color":"#c660"},{"offset":0.9503,"color":"#c66"},{"offset":0.9516,"color":"#c660"}
]}},
"encoding":{"x":{"field":"x","type":"quantitative","title":null},"y":{"field":"y","type":"quantitative","title":"Arbitrary Units"}}},
{"data":{"name":"nieves"},"mark":{"type":"line","interpolate":"monotone","stroke":"#66c","strokeWidth":3.3},
"encoding":{"x":{"field":"x","type":"quantitative","title":null},"y":{"field":"y","type":"quantitative","title":"Arbitrary Units"}}},
{"data":{"name":"delta"},"mark":{"type":"line","interpolate":"monotone","stroke":"#c66","strokeWidth":3.5},
"encoding":{"x":{"field":"x","type":"quantitative","title":null},"y":{"field":"y","type":"quantitative","title":"Arbitrary Units"}}},
{"data":{"name":"ccqe"},"mark":{"type":"line","interpolate":"monotone","stroke":"black","strokeWidth":4},
"encoding":{"x":{"field":"x","type":"quantitative","title":null},"y":{"field":"y","type":"quantitative","title":"Arbitrary Units"}}},
{"data":{"values":[{}]},"mark":{"type":"rule","stroke":"#222","strokeWidth":2.2,"strokeDash":[10,6]},
"encoding":{"x":{"datum":0}}},
{"data":{"values":[{}]},"mark":{"type":"rule","stroke":"black","strokeWidth":3.5},
"encoding":{"x":{"datum":-0.9272},"x2":{"datum":-0.8465},"y":{"datum":15.397}}},
{"data":{"values":[{}]},"mark":{"type":"rect","stroke":"#66c","strokeWidth":3,"cornerRadius":2,"fill":{"gradient":"linear","x1":0,"y1":0,"x2":1,"y2":1,"stops":[
{"offset":0,"color":"#66c0"},{"offset":0.013,"color":"#66c"},{"offset":0.026,"color":"#66c0"},
{"offset":0.07,"color":"#66c0"},{"offset":0.083,"color":"#66c"},{"offset":0.096,"color":"#66c0"},
{"offset":0.14,"color":"#66c0"},{"offset":0.153,"color":"#66c"},{"offset":0.166,"color":"#66c0"},
{"offset":0.21,"color":"#66c0"},{"offset":0.223,"color":"#66c"},{"offset":0.236,"color":"#66c0"},
{"offset":0.28,"color":"#66c0"},{"offset":0.293,"color":"#66c"},{"offset":0.306,"color":"#66c0"},
{"offset":0.35,"color":"#66c0"},{"offset":0.363,"color":"#66c"},{"offset":0.376,"color":"#66c0"},
{"offset":0.42,"color":"#66c0"},{"offset":0.433,"color":"#66c"},{"offset":0.446,"color":"#66c0"},
{"offset":0.49,"color":"#66c0"},{"offset":0.503,"color":"#66c"},{"offset":0.516,"color":"#66c0"},
{"offset":0.56,"color":"#66c0"},{"offset":0.573,"color":"#66c"},{"offset":0.586,"color":"#66c0"},
{"offset":0.63,"color":"#66c0"},{"offset":0.643,"color":"#66c"},{"offset":0.656,"color":"#66c0"},
{"offset":0.7,"color":"#66c0"},{"offset":0.713,"color":"#66c"},{"offset":0.726,"color":"#66c0"},
{"offset":0.77,"color":"#66c0"},{"offset":0.783,"color":"#66c"},{"offset":0.796,"color":"#66c0"},
{"offset":0.84,"color":"#66c0"},{"offset":0.853,"color":"#66c"},{"offset":0.866,"color":"#66c0"},
{"offset":0.91,"color":"#66c0"},{"offset":0.923,"color":"#66c"},{"offset":0.936,"color":"#66c0"},
{"offset":0.98,"color":"#66c0"},{"offset":0.993,"color":"#66c"},{"offset":1,"color":"#66c0"}
]}},
"encoding":{"x":{"datum":-0.9292},"x2":{"datum":-0.846},"y":{"datum":13.974},"y2":{"datum":12.333}}},
{"data":{"values":[{}]},"mark":{"type":"rect","stroke":"#c66","strokeWidth":3,"cornerRadius":2,"fill":{"gradient":"linear","x1":0,"y1":1,"x2":1,"y2":0,"stops":[
{"offset":0,"color":"#c660"},{"offset":0.013,"color":"#c66"},{"offset":0.026,"color":"#c660"},
{"offset":0.07,"color":"#c660"},{"offset":0.083,"color":"#c66"},{"offset":0.096,"color":"#c660"},
{"offset":0.14,"color":"#c660"},{"offset":0.153,"color":"#c66"},{"offset":0.166,"color":"#c660"},
{"offset":0.21,"color":"#c660"},{"offset":0.223,"color":"#c66"},{"offset":0.236,"color":"#c660"},
{"offset":0.28,"color":"#c660"},{"offset":0.293,"color":"#c66"},{"offset":0.306,"color":"#c660"},
{"offset":0.35,"color":"#c660"},{"offset":0.363,"color":"#c66"},{"offset":0.376,"color":"#c660"},
{"offset":0.42,"color":"#c660"},{"offset":0.433,"color":"#c66"},{"offset":0.446,"color":"#c660"},
{"offset":0.49,"color":"#c660"},{"offset":0.503,"color":"#c66"},{"offset":0.516,"color":"#c660"},
{"offset":0.56,"color":"#c660"},{"offset":0.573,"color":"#c66"},{"offset":0.586,"color":"#c660"},
{"offset":0.63,"color":"#c660"},{"offset":0.643,"color":"#c66"},{"offset":0.656,"color":"#c660"},
{"offset":0.7,"color":"#c660"},{"offset":0.713,"color":"#c66"},{"offset":0.726,"color":"#c660"},
{"offset":0.77,"color":"#c660"},{"offset":0.783,"color":"#c66"},{"offset":0.796,"color":"#c660"},
{"offset":0.84,"color":"#c660"},{"offset":0.853,"color":"#c66"},{"offset":0.866,"color":"#c660"},
{"offset":0.91,"color":"#c660"},{"offset":0.923,"color":"#c66"},{"offset":0.936,"color":"#c660"},
{"offset":0.98,"color":"#c660"},{"offset":0.993,"color":"#c66"},{"offset":1,"color":"#c660"}
]}},
"encoding":{"x":{"datum":-0.9292},"x2":{"datum":-0.846},"y":{"datum":11.707},"y2":{"datum":10.082}}},
{"data":{"values":[{}]},"mark":{"type":"text","text":"CCQE","font":"Liberation Serif","fontSize":64,"align":"left","baseline":"alphabetic","color":"black"},
"encoding":{"x":{"datum":-0.8316},"y":{"datum":14.872}}},
{"data":{"values":[{}]},"mark":{"type":"text","text":"Nieves multinucleon (×5)","font":"Liberation Serif","fontSize":64,"align":"left","baseline":"alphabetic","color":"black"},
"encoding":{"x":{"datum":-0.8316},"y":{"datum":12.685}}},
{"data":{"values":[{}]},"mark":{"type":"text","text":"pionless Δ-decay (×5)","font":"Liberation Serif","fontSize":64,"align":"left","baseline":"alphabetic","color":"black"},
"encoding":{"x":{"datum":-0.8316},"y":{"datum":10.417}}},
{"data":{"values":[{}]},"mark":{"type":"text","text":["T2K, PRL 112,","181801 (2014)"],"lineHeight":93.5,"font":"Liberation Sans","fontStyle":"italic","fontSize":76,"align":"left","baseline":"alphabetic","color":"black"},
"encoding":{"x":{"datum":-0.9386},"y":{"datum":6.293}}},
{"data":{"values":[{}]},"mark":{"type":"text","text":"E","font":"Liberation Serif","fontSize":73,"align":"left","baseline":"alphabetic","color":"black"},
"encoding":{"x":{"datum":0.0108},"y":{"datum":-3.494}}},
{"data":{"values":[{}]},"mark":{"type":"text","text":"QE","font":"Liberation Serif","fontSize":52,"align":"left","baseline":"alphabetic","color":"black"},
"encoding":{"x":{"datum":0.0667},"y":{"datum":-2.509}}},
{"data":{"values":[{}]},"mark":{"type":"text","text":"reco","font":"Liberation Serif","fontSize":48,"align":"left","baseline":"alphabetic","color":"black"},
"encoding":{"x":{"datum":0.0667},"y":{"datum":-3.775}}},
{"data":{"values":[{}]},"mark":{"type":"text","text":"-","font":"Liberation Serif","fontSize":73,"align":"left","baseline":"alphabetic","color":"black"},
"encoding":{"x":{"datum":0.1813},"y":{"datum":-3.494}}},
{"data":{"values":[{}]},"mark":{"type":"text","text":"E","font":"Liberation Serif","fontSize":73,"align":"left","baseline":"alphabetic","color":"black"},
"encoding":{"x":{"datum":0.2247},"y":{"datum":-3.494}}},
{"data":{"values":[{}]},"mark":{"type":"text","text":"true","font":"Liberation Serif","fontSize":48,"align":"left","baseline":"alphabetic","color":"black"},
"encoding":{"x":{"datum":0.276},"y":{"datum":-3.845}}},
{"data":{"values":[{}]},"mark":{"type":"text","text":"(GeV)","font":"Liberation Serif","fontSize":73,"align":"right","baseline":"alphabetic","color":"black"},
"encoding":{"x":{"datum":0.6},"y":{"datum":-3.494}}},
{"data":{"values":[{}]},"mark":{"type":"text","text":"17","font":"Liberation Sans","fontSize":40,"align":"right","baseline":"alphabetic","color":"black"},
"encoding":{"x":{"datum":0.646},"y":{"datum":-4.0}}}
]},
{"data":{"values":[{}]},"mark":{"type":"point","opacity":0},
"encoding":{
"x":{"datum":0,"scale":{"domain":[-1,0.6],"nice":false,"zero":false},"axis":{"orient":"top","title":null,"values":[-1,-0.9,-0.8,-0.7,-0.6,-0.5,-0.4,-0.3,-0.2,-0.1,0,0.1,0.2,0.3,0.4,0.5,0.6],"labels":false,"tickSize":{"condition":{"test":"indexof([-1,-0.5,0,0.5], datum.value) >= 0","value":-23},"value":-11.5},"tickWidth":2,"zindex":1}},
"y":{"datum":0,"scale":{"domain":[0,16.6],"nice":false,"zero":false},"axis":{"orient":"right","title":null,"values":[0,1,2,3,4,5,6,7,8,9,10,11,12,13,14,15,16],"labels":false,"tickSize":{"condition":{"test":"indexof([0,5,10,15], datum.value) >= 0","value":-37},"value":-18},"tickWidth":2.5,"zindex":1}}}}
],
"resolve":{"axis":{"x":"independent","y":"independent"}}
}
